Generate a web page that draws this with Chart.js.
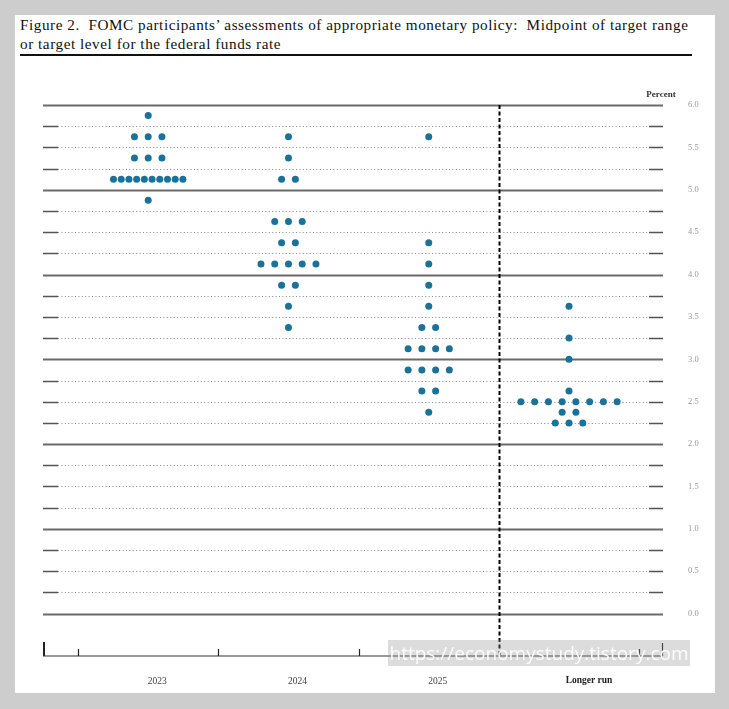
<!DOCTYPE html>
<html>
<head>
<meta charset="utf-8">
<script src="https://cdn.jsdelivr.net/npm/chart.js@4.4.1/dist/chart.umd.min.js"></script>
<style>
  html, body { margin: 0; padding: 0; background: #cdcdcd; }
  #panel { position: absolute; left: 15px; top: 15px; width: 700px; height: 678px; background: #fff; }
  #title { position: absolute; left: 20px; top: 15px; width: 690px; font-family: "Liberation Serif", serif;
           font-size: 15.2px; letter-spacing: 0.55px; line-height: 19px; color: #111; white-space: nowrap; }
  #rule { position: absolute; left: 20px; top: 54px; width: 672px; height: 2px; background: #111; }
  #wrap { position: absolute; left: 0; top: 0; width: 729px; height: 709px; }
  #mark { position: absolute; left: 388px; top: 640px; width: 302px; height: 26px; background: rgba(150,150,150,0.33);
          color: rgba(255,255,255,0.95); font-family: "Open Sans", sans-serif; font-size: 19px; line-height: 26px;
          text-align: center; white-space: nowrap; }
</style>
</head>
<body>
<div id="panel"></div>
<div id="title">Figure 2.&nbsp; FOMC participants’ assessments of appropriate monetary policy:&nbsp; Midpoint of target range<br>or target level for the federal funds rate</div>
<div id="rule"></div>
<div id="wrap"><canvas id="dots"></canvas></div>
<div id="mark">https://economystudy.tistory.com</div>
<script>
const years = ['2023', '2024', '2025', 'Longer run'];

const rates2023 = [5.875, 5.625, 5.375, 5.125, 4.875];
const counts2023 = [1, 3, 3, 10, 1];

const rates2024 = [5.625, 5.375, 5.125, 4.625, 4.375, 4.125, 3.875, 3.625, 3.375];
const counts2024 = [1, 1, 2, 3, 2, 5, 2, 1, 1];

const rates2025 = [5.625, 4.375, 4.125, 3.875, 3.625, 3.375, 3.125, 2.875, 2.625, 2.375];
const counts2025 = [1, 1, 1, 1, 1, 2, 4, 4, 2, 1];

const ratesLonger = [3.625, 3.25, 3.0, 2.625, 2.5, 2.375, 2.25];
const countsLonger = [1, 1, 1, 1, 8, 2, 3];

const allRates = [rates2023, rates2024, rates2025, ratesLonger];
const allCounts = [counts2023, counts2024, counts2025, countsLonger];

// spread each row of participants side by side around the year's centre
function buildPoints() {
  const pts = [];
  allRates.forEach((rates, col) => {
    rates.forEach((r, j) => {
      const n = allCounts[col][j];
      const gap = n > 8 ? 0.055 : 0.098;
      for (let k = 0; k < n; k++) {
        pts.push({ x: col + (k - (n - 1) / 2) * gap, y: r });
      }
    });
  });
  return pts;
}

const dotPlotLines = {
  id: 'dotPlotLines',
  beforeDatasetsDraw(chart) {
    const { ctx, chartArea, scales } = chart;
    const x = scales.x, y = scales.y;
    const left = chartArea.left, right = chartArea.right;
    ctx.save();
    y.ticks.forEach(t => {
      const v = t.value;
      if (v < 0 || v > 6) return;
      const py = Math.round(y.getPixelForValue(v)) + 0.5;
      if (Math.abs(v - Math.round(v)) < 1e-6) {
        ctx.setLineDash([]);
        ctx.strokeStyle = '#6a6a6a';
        ctx.lineWidth = 2;
        ctx.beginPath(); ctx.moveTo(left, py); ctx.lineTo(right, py); ctx.stroke();
      } else {
        ctx.setLineDash([1, 2.4]);
        ctx.strokeStyle = '#8a8a8a';
        ctx.lineWidth = 1;
        ctx.beginPath(); ctx.moveTo(left + 15, py); ctx.lineTo(right - 14, py); ctx.stroke();
        ctx.setLineDash([]);
        ctx.strokeStyle = '#555';
        ctx.lineWidth = 1.3;
        ctx.beginPath();
        ctx.moveTo(left, py); ctx.lineTo(left + 15, py);
        ctx.moveTo(right - 14, py); ctx.lineTo(right, py);
        ctx.stroke();
      }
    });

    // bottom axis with year ticks
    const by = Math.round(y.getPixelForValue(-0.5));
    ctx.setLineDash([]);
    ctx.strokeStyle = '#777';
    ctx.lineWidth = 1.5;
    ctx.beginPath(); ctx.moveTo(left, by); ctx.lineTo(right, by); ctx.stroke();
    ctx.strokeStyle = '#222';
    ctx.lineWidth = 2;
    ctx.beginPath(); ctx.moveTo(left + 1, by); ctx.lineTo(left + 1, by - 14); ctx.stroke();
    ctx.lineWidth = 1.2;
    [-0.5, 0.5, 1.5, 3.5].forEach(v => {
      const px = Math.round(x.getPixelForValue(v)) + 0.5;
      ctx.beginPath(); ctx.moveTo(px, by); ctx.lineTo(px, by - 7); ctx.stroke();
    });
    ctx.beginPath(); ctx.moveTo(right - 0.5, by); ctx.lineTo(right - 0.5, by - 13); ctx.stroke();

    // separator before the longer run
    const sx = Math.round(x.getPixelForValue(2.5)) + 0.5;
    ctx.strokeStyle = '#000';
    ctx.lineWidth = 2;
    ctx.setLineDash([4, 2.5]);
    ctx.beginPath(); ctx.moveTo(sx, y.getPixelForValue(6)); ctx.lineTo(sx, by); ctx.stroke();
    ctx.restore();
  },
  afterDraw(chart) {
    const { ctx, chartArea, scales } = chart;
    const x = scales.x;
    ctx.save();
    ctx.textAlign = 'center';
    ctx.textBaseline = 'middle';
    ctx.fillStyle = '#333';
    ctx.font = 'bold 9px "Liberation Serif", serif';
    ctx.fillText('Percent', chartArea.right - 2, chartArea.top - 10);
    const shift = [9, 9, 9, 20];
    years.forEach((yr, i) => {
      ctx.font = (i === 3 ? 'bold ' : '') + '9.5px "Liberation Serif", serif';
      ctx.fillStyle = i === 3 ? '#222' : '#444';
      ctx.fillText(yr, x.getPixelForValue(i) + shift[i], 681);
    });
    ctx.restore();
  }
};

new Chart(document.getElementById('dots'), {
  type: 'scatter',
  data: {
    datasets: [{
      data: buildPoints(),
      backgroundColor: '#1a729b',
      borderWidth: 0,
      pointRadius: 3.5,
      pointHoverRadius: 3.5
    }]
  },
  options: {
    responsive: true,
    maintainAspectRatio: false,
    animation: false,
    events: [],
    layout: { padding: { left: 43, right: 26, top: 105, bottom: 53 } },
    plugins: { legend: { display: false }, tooltip: { enabled: false } },
    scales: {
      x: {
        type: 'linear',
        min: -0.75,
        max: 3.67,
        display: false
      },
      y: {
        type: 'linear',
        position: 'right',
        min: -0.5,
        max: 6,
        grid: { display: false },
        border: { display: false },
        afterFit(scale) { scale.width = 40; },
        ticks: {
          stepSize: 0.25,
          autoSkip: false,
          padding: 17,
          color: '#999',
          font: { family: '"Liberation Serif", serif', size: 8.5 },
          callback(v) {
            if (v < 0 || Math.abs(v * 2 - Math.round(v * 2)) > 1e-6) return '';
            return v.toFixed(1);
          }
        }
      }
    }
  },
  plugins: [dotPlotLines]
});
</script>
</body>
</html>
